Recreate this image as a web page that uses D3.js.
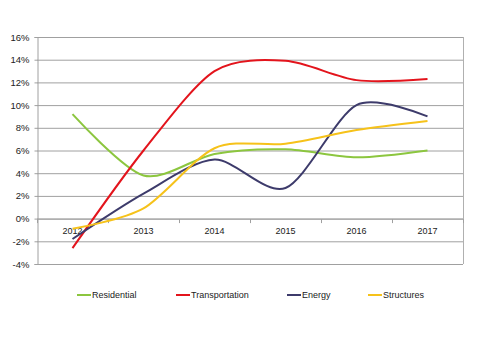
<!DOCTYPE html>
<html><head><meta charset="utf-8">
<script src="https://cdn.jsdelivr.net/npm/d3@7"></script>
<style>body{margin:0;background:#fff}svg{display:block;font-family:"Liberation Sans",Arial,sans-serif}</style>
</head><body><svg id="c" width="480" height="349"></svg>
<script>
const categories = ["2012","2013","2014","2015","2016","2017"];
const yTicks = [-4,-2,0,2,4,6,8,10,12,14,16];
const residential = [9.2, 3.8, 5.7, 6.1, 5.4, 6.0];
const transportation = [-2.6, 6.0, 13.0, 13.9, 12.2, 12.3];
const energy = [-1.8, 2.2, 5.2, 2.7, 10.0, 9.0];
const structures = [-0.9, 0.9, 6.2, 6.6, 7.8, 8.6];
const seriesNames = ["Residential","Transportation","Energy","Structures"];
const seriesColors = ["#8cc63f","#e3141c","#3d3b6b","#f6c21a"];
const seriesData = [residential, transportation, energy, structures];

const svg = d3.select("#c");
const L = 37, R = 463, T = 37, B = 264;
const x = d3.scaleBand().domain(categories).range([L, R]).padding(0);
const y = d3.scaleLinear().domain([-4, 16]).range([B, T]);

// gridlines
svg.append("g").selectAll("line").data(yTicks).join("line")
  .attr("x1", L).attr("x2", R).attr("y1", d => y(d)+0.5).attr("y2", d => y(d)+0.5)
  .attr("stroke", "#a0a0a0").attr("stroke-width", 1);
// plot border right
svg.append("line").attr("x1", R+0.5).attr("x2", R+0.5).attr("y1", T).attr("y2", B)
  .attr("stroke", "#b0b0b0");

// y axis
const yAxis = d3.axisLeft(y).tickValues(yTicks).tickFormat(d => d + "%").tickSize(3);
const gy = svg.append("g").attr("transform", `translate(${L+0.5},0)`).call(yAxis);
gy.select(".domain").attr("stroke", "#a0a0a0");
gy.selectAll(".tick line").attr("stroke", "#a0a0a0");
gy.selectAll("text").attr("font-size", 9.5).attr("fill", "#222").attr("font-family", "Liberation Sans, Arial, sans-serif").attr("x", -8);

// x axis at 0
const gx = svg.append("g").attr("transform", `translate(0,${y(0)+0.5})`);
gx.append("line").attr("x1", L).attr("x2", R).attr("stroke", "#a0a0a0");
const bounds = categories.map(c => x(c)).concat([R]);
gx.selectAll("line.tk").data(bounds).join("line").attr("class","tk")
  .attr("x1", d => d+0.5).attr("x2", d => d+0.5).attr("y1", 0).attr("y2", 4).attr("stroke", "#a0a0a0");
gx.selectAll("text").data(categories).join("text")
  .attr("x", d => x(d) + x.bandwidth()/2).attr("y", 15)
  .attr("text-anchor", "middle").attr("font-size", 9).attr("fill", "#222").text(d => d);

// lines
const line = d3.line().x((d,i) => x(categories[i]) + x.bandwidth()/2).y(d => y(d))
  .curve(d3.curveCardinal.tension(0.15));
seriesData.forEach((s, k) => {
  svg.append("path").datum(s).attr("d", line).attr("fill", "none")
    .attr("stroke", seriesColors[k]).attr("stroke-width", 2);
});

// legend
const legX = [77, 176, 287, 368];
const lg = svg.append("g").attr("transform", "translate(0,295)");
seriesNames.forEach((n, k) => {
  lg.append("line").attr("x1", legX[k]).attr("x2", legX[k]+14).attr("y1", 0).attr("y2", 0)
    .attr("stroke", seriesColors[k]).attr("stroke-width", 2);
  lg.append("text").attr("x", legX[k]+15).attr("y", 3.2).attr("font-size", 9).attr("fill", "#222").text(n);
});
</script></body></html>
